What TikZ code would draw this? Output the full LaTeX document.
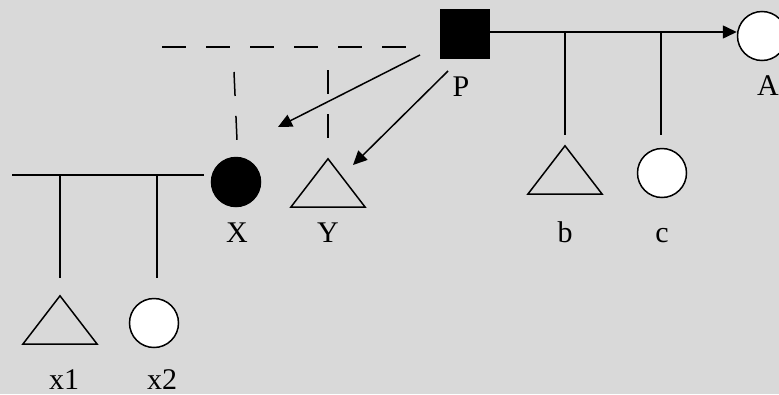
\documentclass[tikz,border=0pt]{standalone}
\usepackage{fontspec}
\setmainfont{Liberation Serif}
\usetikzlibrary{arrows.meta}
\definecolor{bggray}{HTML}{D9D9D9}
\begin{document}
\begin{tikzpicture}[x=1pt,y=-1pt,
  ln/.style={line width=1.5pt,black},
  dsh/.style={ln,dash pattern=on 24pt off 20pt},
  arr/.style={ln,-{Triangle[length=14pt,width=13pt]}},
  malebox/.style={draw,line width=1.5pt,minimum size=49pt,inner sep=0pt},
  femcirc/.style={circle,draw,line width=1.5pt,fill=white,minimum size=49pt,inner sep=0pt},
  tribox/.style={minimum width=74pt,minimum height=48pt,inner sep=0pt},
  tri/.style={ln,line join=miter},
  lbl/.style={font=\fontsize{30}{32}\selectfont,anchor=base,inner sep=0pt}]
\useasboundingbox (0,0) rectangle (779,394);
\fill[bggray] (0,0) rectangle (779,394);

% nodes
\node[malebox,fill=black] (P) at (465,34) {};
\node[femcirc] (A) at (762,36) {};
\node[femcirc,fill=black] (X) at (236,182) {};
\node[tribox] (Y) at (328,183) {};
\node[tribox] (b) at (565,170) {};
\node[femcirc] (c) at (662,173) {};
\node[tribox] (x1) at (60,320) {};
\node[femcirc] (x2) at (154,323) {};

\foreach \t in {Y,b,x1}
  \draw[tri] (\t.south west) -- (\t.north) -- (\t.south east) -- cycle;

% labels
\node[lbl] (lP) at (461,96) {P};
\node[lbl] (lA) at (768,95) {A};
\node[lbl] (lX) at (237,242) {X};
\node[lbl] (lY) at (328,242) {Y};
\node[lbl] (lb) at (565,242) {b};
\node[lbl] (lc) at (662,242) {c};
\node[lbl] (lx1) at (64,389) {x1};
\node[lbl] (lx2) at (162,389) {x2};

% coordinates
\coordinate (bt) at (565,32);
\coordinate (bb) at (565,135);
\coordinate (ct) at (661,32);
\coordinate (cb) at (661,135);
\coordinate (dl) at (162,47);
\coordinate (dr) at (425,47);
\coordinate (d1t) at (234,72);
\coordinate (d1b) at (237,140);
\coordinate (d2t) at (328,70);
\coordinate (d2b) at (328,145);
\coordinate (a1s) at (420,55);
\coordinate (a2s) at (448,71);
\coordinate (fl) at (12,175);
\coordinate (fr) at (204,175);
\coordinate (v1t) at (60,175);
\coordinate (v1b) at (60,278);
\coordinate (v2t) at (157,175);
\coordinate (v2b) at (157,278);

% connectors
\draw[arr] (P.east |- bt) -- (A.west |- bt);
\draw[ln] (bt) -- (bb);
\draw[ln] (ct) -- (cb);
\draw[dsh] (dl) -- (dr);
\draw[dsh] (d1t) -- (d1b);
\draw[dsh] (d2t) -- (d2b);
\draw[arr] (a1s) -- (278,127);
\draw[arr] (a2s) -- (353,165);
\draw[ln] (fl) -- (fr);
\draw[ln] (v1t) -- (v1b);
\draw[ln] (v2t) -- (v2b);
\end{tikzpicture}
\end{document}
